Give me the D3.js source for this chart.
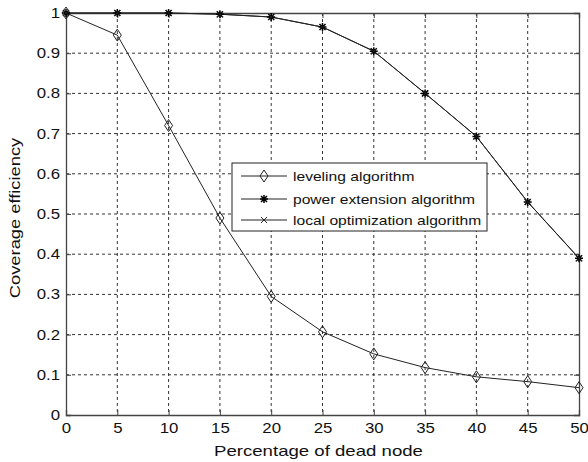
<!DOCTYPE html>
<html>
<head>
<meta charset="utf-8">
<script src="https://cdn.jsdelivr.net/npm/d3@7"></script>
<style>
  body { margin: 0; background: #fff; }
  text { font-family: "Liberation Sans", Arial, sans-serif; fill: #111; }
</style>
</head>
<body>
<div id="chart"></div>
<script>
// data
var xValues = [0, 5, 10, 15, 20, 25, 30, 35, 40, 45, 50];
var leveling = [1, 0.945, 0.72, 0.49, 0.295, 0.207, 0.152, 0.118, 0.095, 0.083, 0.068];
var powerExt = [1, 1, 1, 0.997, 0.99, 0.965, 0.905, 0.80, 0.693, 0.53, 0.39];
var localOpt = [1, 1, 1, 0.997, 0.99, 0.965, 0.905, 0.80, 0.693, 0.53, 0.39];
var xTicks = [0, 5, 10, 15, 20, 25, 30, 35, 40, 45, 50];
var yTicks = [0, 0.1, 0.2, 0.3, 0.4, 0.5, 0.6, 0.7, 0.8, 0.9, 1];
var legendNames = ["leveling algorithm", "power extension algorithm", "local optimization algorithm"];

var W = 588, H = 462;
var margin = {top: 13, right: 9, bottom: 47, left: 66};
var width = W - margin.left - margin.right,
    height = H - margin.top - margin.bottom;

// the original text is a bit wider than Liberation Sans, stretch it
function stretch(sel, k) {
  sel.each(function() {
    var w = this.getComputedTextLength();
    d3.select(this).attr("textLength", w * k).attr("lengthAdjust", "spacingAndGlyphs");
  });
}

var svg = d3.select("#chart").append("svg")
    .attr("width", W).attr("height", H);
var g = svg.append("g")
    .attr("transform", "translate(" + margin.left + "," + margin.top + ")");

var x = d3.scaleLinear().domain([0, 50]).range([0, width]);
var y = d3.scaleLinear().domain([0, 1]).range([height, 0]);

// dashed grid
g.append("g").selectAll("line.vg")
  .data(xTicks.slice(1, -1)).enter().append("line")
    .attr("x1", d => x(d)).attr("x2", d => x(d))
    .attr("y1", 0).attr("y2", height)
    .attr("stroke", "#333").attr("stroke-width", 1)
    .attr("stroke-dasharray", "3,3");
g.append("g").selectAll("line.hg")
  .data(yTicks.slice(1, -1)).enter().append("line")
    .attr("y1", d => y(d)).attr("y2", d => y(d))
    .attr("x1", 0).attr("x2", width)
    .attr("stroke", "#333").attr("stroke-width", 1)
    .attr("stroke-dasharray", "3,3");

// axes with inward ticks
var xAxis = g.append("g")
  .attr("transform", "translate(0," + height + ")")
  .call(d3.axisBottom(x).tickValues(xTicks).tickSize(-5).tickPadding(8).tickFormat(d3.format("d")));
var xTop = g.append("g")
  .call(d3.axisTop(x).tickValues(xTicks).tickSize(-5).tickFormat(""));
var yAxis = g.append("g")
  .call(d3.axisLeft(y).tickValues(yTicks).tickSize(-5).tickPadding(6).tickFormat(d => d === 0 || d === 1 ? d : d3.format(".1f")(d)));
var yRight = g.append("g")
  .attr("transform", "translate(" + width + ",0)")
  .call(d3.axisRight(y).tickValues(yTicks).tickSize(-5).tickFormat(""));

[xAxis, xTop, yAxis, yRight].forEach(function(a) {
  a.select(".domain").attr("stroke", "#444").attr("stroke-width", 1.3);
  a.selectAll(".tick line").attr("stroke", "#444");
  a.selectAll("text").style("font-size", "14px").attr("fill", "#111");
});
stretch(xAxis.selectAll("text"), 1.2);
stretch(yAxis.selectAll("text"), 1.2);

// lines
var line = d3.line().x((d, i) => x(xValues[i])).y(d => y(d));
[leveling, powerExt, localOpt].forEach(function(s) {
  g.append("path").datum(s)
    .attr("d", line).attr("fill", "none")
    .attr("stroke", "#222").attr("stroke-width", 1);
});

// markers
function diamond(sel, cx, cy) {
  sel.append("path")
    .attr("d", "M" + cx + "," + (cy - 6) + "L" + (cx + 4) + "," + cy + "L" + cx + "," + (cy + 6) + "L" + (cx - 4) + "," + cy + "Z")
    .attr("fill", "none").attr("stroke", "#222").attr("stroke-width", 1);
}
function star(sel, cx, cy) {
  var r = 4;
  var p = "M" + (cx - r) + "," + cy + "L" + (cx + r) + "," + cy +
          "M" + cx + "," + (cy - r) + "L" + cx + "," + (cy + r) +
          "M" + (cx - 3) + "," + (cy - 3) + "L" + (cx + 3) + "," + (cy + 3) +
          "M" + (cx - 3) + "," + (cy + 3) + "L" + (cx + 3) + "," + (cy - 3);
  sel.append("path").attr("d", p).attr("stroke", "#000").attr("stroke-width", 1.5);
}
function cross(sel, cx, cy) {
  var r = 3;
  sel.append("path")
    .attr("d", "M" + (cx - r) + "," + (cy - r) + "L" + (cx + r) + "," + (cy + r) + "M" + (cx - r) + "," + (cy + r) + "L" + (cx + r) + "," + (cy - r))
    .attr("stroke", "#222").attr("stroke-width", 1);
}
var mk = g.append("g");
leveling.forEach((v, i) => diamond(mk, x(xValues[i]), y(v)));
powerExt.forEach((v, i) => star(mk, x(xValues[i]), y(v)));
localOpt.forEach((v, i) => cross(mk, x(xValues[i]), y(v)));

// axis titles
var xTitle = svg.append("text")
  .attr("x", margin.left + width / 2 - 4).attr("y", 456)
  .attr("text-anchor", "middle").style("font-size", "15px")
  .text("Percentage of dead node");
var yTitle = svg.append("text")
  .attr("transform", "translate(20," + (margin.top + height / 2 + 4) + ") rotate(-90)")
  .attr("text-anchor", "middle").style("font-size", "15px")
  .text("Coverage efficiency");
stretch(xTitle, 1.24);
stretch(yTitle, 1.22);

// legend
var lg = svg.append("g");
lg.append("rect")
  .attr("x", 232).attr("y", 163).attr("width", 255).attr("height", 68)
  .attr("fill", "#fff").attr("stroke", "#222").attr("stroke-width", 1);
var rows = [176, 199, 220];
var markFns = [diamond, star, cross];
legendNames.forEach(function(name, i) {
  lg.append("line").attr("x1", 241).attr("x2", 287)
    .attr("y1", rows[i]).attr("y2", rows[i])
    .attr("stroke", "#222").attr("stroke-width", 1);
  markFns[i](lg, 264, rows[i]);
  var t = lg.append("text").attr("x", 293).attr("y", rows[i] + 5)
    .style("font-size", "13px").text(name);
  stretch(t, 1.2);
});
</script>
</body>
</html>
